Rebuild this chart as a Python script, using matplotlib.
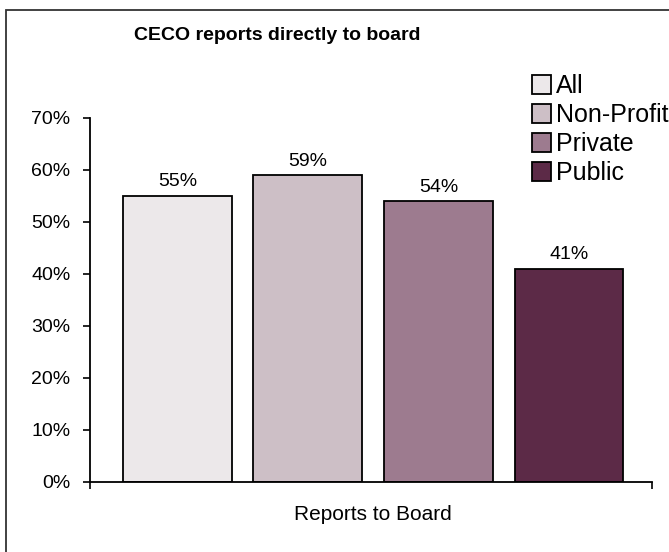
import matplotlib
matplotlib.use("Agg")
import matplotlib.pyplot as plt
import matplotlib.transforms as mtransforms
from matplotlib.patches import Rectangle
from matplotlib.ticker import FuncFormatter

plt.rcParams["font.family"] = ["Liberation Sans", "DejaVu Sans"]

title = "CECO reports directly to board"
group_label = "Reports to Board"
categories = ["All", "Non-Profit", "Private", "Public"]
values = [55, 59, 54, 41]
colors = ["#ECE8EA", "#CDBFC6", "#9D7B8F", "#5C2A47"]
y_ticks = [0, 10, 20, 30, 40, 50, 60, 70]


def plot_ceco_chart(out_path: str) -> None:
    fig = plt.figure(figsize=(6.69, 5.52), dpi=100)

    # outer chart border (runs off the right and bottom edges)
    fig.patches.append(Rectangle((6 / 669, -0.05), 1.1, (552 - 9.5) / 552 + 0.05,
                                 transform=fig.transFigure, fill=False,
                                 edgecolor="#333333", linewidth=1.3))

    ax = fig.add_axes([90 / 669, 70 / 552, 562 / 669, 364 / 552])

    positions = list(range(len(categories)))
    bars = ax.bar(positions, values, width=0.835, color=colors,
                  edgecolor="black", linewidth=1.3, label=categories)
    ax.bar_label(bars, labels=[f"{v}%" for v in values], padding=4, fontsize=14)

    ax.set_xlim(-0.67, 3.636)
    ax.set_ylim(0, 70)
    ax.set_yticks(y_ticks)
    ax.yaxis.set_major_formatter(FuncFormatter(lambda v, _: f"{v:.0f}%"))
    ax.tick_params(axis="y", direction="out", length=5, width=1.2,
                   labelsize=14, pad=9)

    ax.set_xticks([-0.67, 3.636])
    ax.set_xticklabels(["", ""])
    ax.tick_params(axis="x", direction="out", length=5, width=1.2)

    for side in ["top", "right"]:
        ax.spines[side].set_visible(False)
    for side in ["left", "bottom"]:
        ax.spines[side].set_linewidth(1.3)

    trans = mtransforms.blended_transform_factory(ax.transData, ax.transAxes)
    ax.text(1.5, -0.09, group_label, transform=trans, ha="center",
            va="center", fontsize=15)

    fig.text(277 / 669, 1 - 36 / 552, title, ha="center", va="center",
             fontsize=14, fontweight="bold")

    ax.legend(loc="upper left", bbox_to_anchor=(532 / 669, 1 - 74 / 552),
              bbox_transform=fig.transFigure, frameon=False, fontsize=18,
              handlelength=0.76, handleheight=0.76, handletextpad=0.2,
              labelspacing=0.2, borderpad=0, borderaxespad=0)

    fig.savefig(out_path, dpi=100)


if __name__ == "__main__":
    plot_ceco_chart("out.png")
